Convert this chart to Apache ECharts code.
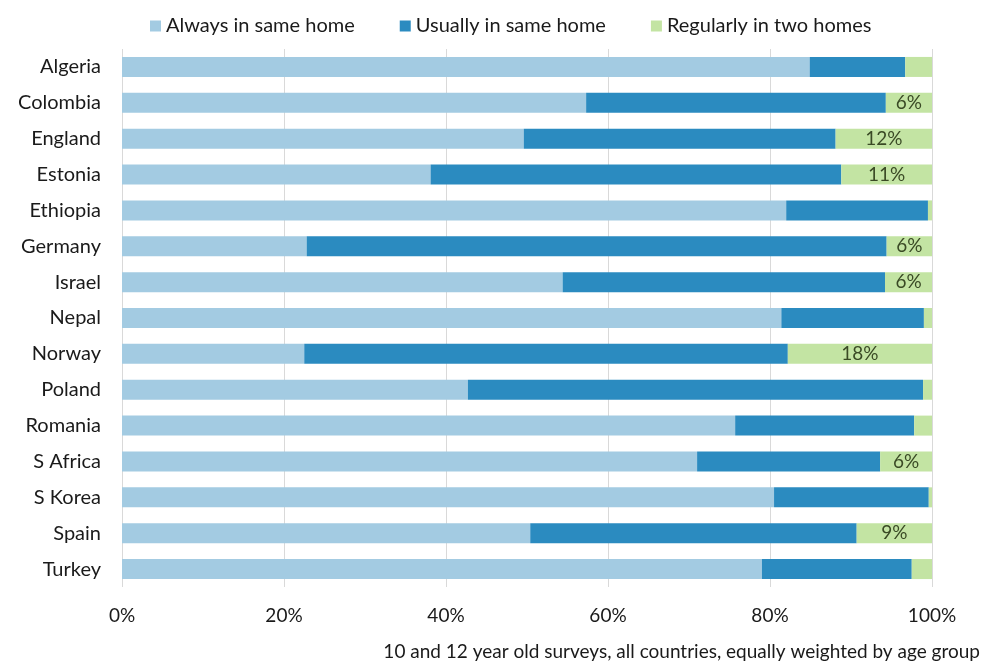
<!DOCTYPE html>
<html>
<head>
<meta charset="utf-8">
<script src="https://cdn.jsdelivr.net/npm/echarts@6/dist/echarts.min.js"></script>
<style>
html,body{margin:0;padding:0;background:#fff;}
#container{width:983px;height:667px;}
</style>
</head>
<body>
<div id="container"></div>
<script>
// 数据
var countries = ['Algeria','Colombia','England','Estonia','Ethiopia','Germany','Israel','Nepal','Norway','Poland','Romania','S Africa','S Korea','Spain','Turkey'];
var always = [84.9,57.3,49.6,38.1,82.0,22.8,54.4,81.4,22.5,42.7,75.7,71.0,80.5,50.4,79.0];
var usually = [11.8,37.0,38.5,50.7,17.5,71.6,39.8,17.6,59.7,56.2,22.1,22.6,19.1,40.3,18.5];
var twoHomes = [3.3,5.7,11.9,11.2,0.5,5.6,5.8,1.0,17.8,1.1,2.2,6.4,0.4,9.3,2.5];
var tickLabels = ['0%','20%','40%','60%','80%','100%'];

var dom = document.getElementById('container');
var myChart = echarts.init(dom);
var font = 'Lato';

myChart.setOption({
    animation: false,
    textStyle: {fontFamily: font},
    legend: {
        top: 11,
        left: 145,
        itemWidth: 11,
        itemHeight: 11,
        itemGap: 45,
        icon: 'rect',
        textStyle: {fontSize: 20, color: '#1a1a1a', fontFamily: font},
        data: ['Always in same home','Usually in same home','Regularly in two homes']
    },
    grid: {left: 122, right: 51, top: 49, bottom: 80},
    xAxis: {
        type: 'value',
        min: 0,
        max: 100,
        interval: 20,
        axisLine: {show: false},
        axisTick: {show: false},
        splitLine: {lineStyle: {color: '#d9d9d9', width: 1}},
        axisLabel: {
            margin: 19,
            fontSize: 19,
            color: '#1a1a1a',
            formatter: function (v) { return tickLabels[v / 20]; }
        }
    },
    yAxis: {
        type: 'category',
        inverse: true,
        data: countries,
        axisLine: {show: false},
        axisTick: {show: false},
        axisLabel: {margin: 21, fontSize: 20, color: '#1a1a1a'}
    },
    series: [{
        name: 'Always in same home',
        type: 'bar',
        stack: 'all',
        barWidth: 20,
        itemStyle: {color: '#a3cbe2'},
        data: always
    }, {
        name: 'Usually in same home',
        type: 'bar',
        stack: 'all',
        barWidth: 20,
        itemStyle: {color: '#2b8bc0'},
        data: usually
    }, {
        name: 'Regularly in two homes',
        type: 'bar',
        stack: 'all',
        barWidth: 20,
        itemStyle: {color: '#c3e4a3'},
        label: {
            show: true,
            position: 'inside',
            fontSize: 19,
            color: '#3a4a25',
            formatter: function (p) { return p.value >= 5 ? Math.round(p.value) + '%' : ''; }
        },
        data: twoHomes
    }],
    graphic: [{
        type: 'text',
        right: 3,
        top: 642,
        style: {
            text: '10 and 12 year old surveys, all countries, equally weighted by age group',
            font: '19px Lato',
            fill: '#1a1a1a'
        }
    }]
});
</script>
</body>
</html>
